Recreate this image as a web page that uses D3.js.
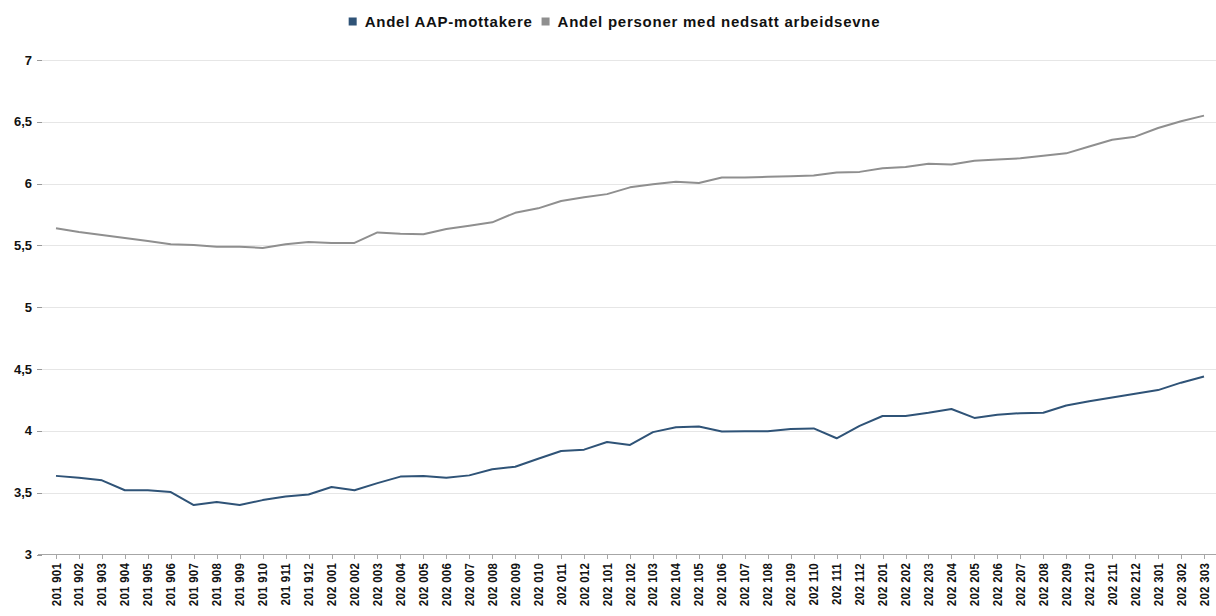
<!DOCTYPE html>
<html>
<head>
<meta charset="utf-8">
<script src="https://cdn.jsdelivr.net/npm/d3@7"></script>
<style>
  html, body { margin: 0; padding: 0; background: #fff; }
  svg { display: block; font-family: "Liberation Sans", Arial, sans-serif; }
</style>
</head>
<body>
<svg id="chart" width="1216" height="616"></svg>
<script>
const categories = [
  "201 901","201 902","201 903","201 904","201 905","201 906","201 907","201 908","201 909","201 910","201 911","201 912",
  "202 001","202 002","202 003","202 004","202 005","202 006","202 007","202 008","202 009","202 010","202 011","202 012",
  "202 101","202 102","202 103","202 104","202 105","202 106","202 107","202 108","202 109","202 110","202 111","202 112",
  "202 201","202 202","202 203","202 204","202 205","202 206","202 207","202 208","202 209","202 210","202 211","202 212",
  "202 301","202 302","202 303"
];
const aapValues = [
  3.636,3.62,3.60,3.52,3.52,3.505,3.40,3.425,3.40,3.44,3.47,3.485,
  3.546,3.52,3.577,3.63,3.635,3.62,3.64,3.69,3.71,3.775,3.837,3.848,
  3.91,3.886,3.99,4.03,4.035,3.995,3.997,3.997,4.016,4.02,3.94,4.04,
  4.12,4.12,4.146,4.177,4.105,4.13,4.143,4.146,4.205,4.24,4.27,4.30,
  4.33,4.39,4.44
];
const nedsattValues = [
  5.639,5.609,5.585,5.56,5.535,5.51,5.503,5.49,5.49,5.48,5.51,5.527,
  5.52,5.52,5.605,5.595,5.59,5.633,5.66,5.687,5.764,5.80,5.86,5.89,
  5.915,5.97,5.995,6.015,6.005,6.05,6.05,6.055,6.06,6.065,6.09,6.095,
  6.125,6.135,6.16,6.155,6.185,6.195,6.205,6.225,6.245,6.30,6.355,6.38,
  6.45,6.505,6.55
];
const seriesNames = ["Andel AAP-mottakere", "Andel personer med nedsatt arbeidsevne"];
const seriesColors = ["#2f5377", "#8f8f8f"];
const yTicks = [3, 3.5, 4, 4.5, 5, 5.5, 6, 6.5, 7];

const locale = d3.formatLocale({decimal: ",", thousands: " ", grouping: [3], currency: ["", " kr"]});
const fmtY = locale.format(".1~f");

const svg = d3.select("#chart");
const x = d3.scalePoint().domain(categories).range([56, 1204]);
const y = d3.scaleLinear().domain([3, 7]).range([554.5, 60]);
const gridLeft = 42, gridRight = 1216;

// gridlines
svg.append("g").selectAll("line").data(yTicks.filter(t => t !== 3)).join("line")
  .attr("x1", gridLeft).attr("x2", gridRight)
  .attr("y1", d => Math.round(y(d)) + 0.5).attr("y2", d => Math.round(y(d)) + 0.5)
  .attr("stroke", "#e6e6e6").attr("stroke-width", 1);

// y ticks + labels
const yg = svg.append("g");
yg.selectAll("line").data(yTicks).join("line")
  .attr("x1", 37).attr("x2", gridLeft)
  .attr("y1", d => Math.round(y(d)) + 0.5).attr("y2", d => Math.round(y(d)) + 0.5)
  .attr("stroke", "#999");
yg.selectAll("text").data(yTicks).join("text")
  .attr("x", 32).attr("y", d => y(d)).attr("dy", "0.35em")
  .attr("text-anchor", "end")
  .attr("font-size", 13).attr("font-weight", "bold").attr("fill", "#111")
  .text(d => fmtY(d));

// x axis
const xg = svg.append("g");
xg.append("line").attr("x1", gridLeft - 4).attr("x2", gridRight)
  .attr("y1", 554.5).attr("y2", 554.5).attr("stroke", "#a6a6a6");
xg.selectAll("line.tick").data(categories).join("line").attr("class", "tick")
  .attr("x1", d => Math.round(x(d)) + 0.5).attr("x2", d => Math.round(x(d)) + 0.5)
  .attr("y1", 554.5).attr("y2", 559).attr("stroke", "#a6a6a6");
xg.selectAll("text").data(categories).join("text")
  .attr("transform", d => `translate(${x(d) + 4.5},563) rotate(-90) scale(0.88,1)`)
  .attr("text-anchor", "end")
  .attr("font-size", 13).attr("font-weight", "bold").attr("fill", "#111")
  .attr("letter-spacing", "0.3px")
  .text(d => d);

// lines
const line = d3.line().x((d, i) => x(categories[i])).y(d => y(d));
[aapValues, nedsattValues].forEach((vals, k) => {
  svg.append("path").datum(vals)
    .attr("d", line).attr("fill", "none")
    .attr("stroke", seriesColors[k]).attr("stroke-width", 2)
    .attr("stroke-linejoin", "round");
});

// legend
const lg = svg.append("g");
const items = lg.selectAll("g").data(seriesNames).join("g");
items.append("rect").attr("width", 8).attr("height", 8)
  .attr("fill", (d, i) => seriesColors[i]);
items.append("text").attr("x", 16).attr("y", 9)
  .attr("font-size", 15).attr("font-weight", "bold").attr("letter-spacing", "0.75px")
  .attr("fill", "#111").text(d => d);
const widths = [];
items.each(function() { widths.push(d3.select(this).select("text").node().getComputedTextLength() + 16); });
const gap = 9;
const total = widths.reduce((a, b) => a + b, 0) + gap;
let start = 614.5 - total / 2;
items.attr("transform", (d, i) => {
  const t = `translate(${start},17.5)`;
  start += widths[i] + gap;
  return t;
});
</script>
</body>
</html>
